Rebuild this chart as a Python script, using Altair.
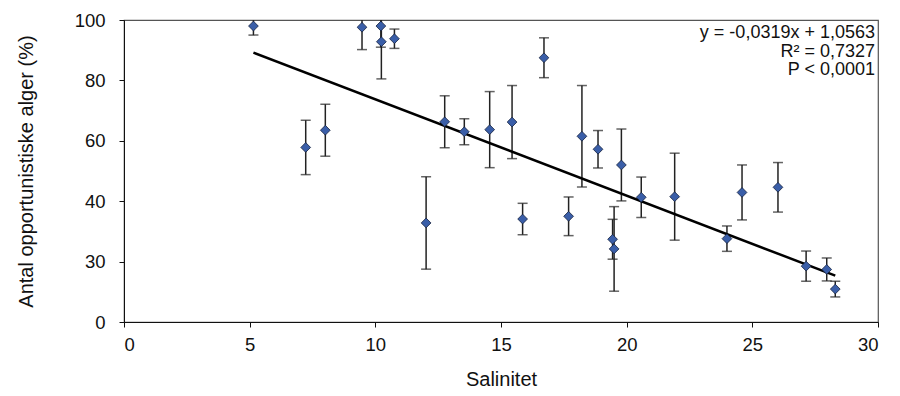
import altair as alt
import pandas as pd

# --- data ---
salinitet = [5.15, 7.23, 8.01, 9.47, 10.22, 10.24, 10.76, 12.02, 12.76, 13.54,
             14.55, 15.44, 15.86, 16.71, 17.69, 18.22, 18.86, 19.44, 19.50, 19.79,
             20.58, 21.91, 23.99, 24.59, 26.02, 27.14, 27.96, 28.30]
andel = [98.0, 57.8, 63.5, 97.6, 98.0, 92.8, 93.8, 32.8, 66.3, 63.0,
         63.7, 66.2, 34.1, 87.5, 35.0, 61.5, 57.2, 27.4, 24.2, 52.0,
         41.3, 41.5, 27.6, 42.9, 44.6, 18.5, 17.4, 10.9]
fejl = [3.0, 9.0, 8.6, 7.4, 7.0, 12.3, 3.2, 15.3, 8.6, 4.3,
        12.6, 12.1, 5.2, 6.6, 6.4, 16.8, 6.2, 6.6, 14.0, 11.9,
        6.7, 14.4, 4.2, 9.1, 8.2, 5.0, 3.8, 2.6]

slope = -0.0319
intercept = 1.0563
eq_lines = ["y = -0,0319x + 1,0563", "R² = 0,7327", "P < 0,0001"]

y_tick_values = [0, 20, 40, 60, 80, 100]
x_tick_values = [0, 5, 10, 15, 20, 25, 30]

df = pd.DataFrame({"x": salinitet, "y": andel, "e": fejl})
df["lo"] = df["y"] - df["e"]
df["hi"] = df["y"] + df["e"]

xmin, xmax = min(salinitet), max(salinitet)
trend = pd.DataFrame({
    "x": [xmin, xmax],
    "y": [(intercept + slope * xmin) * 100, (intercept + slope * xmax) * 100],
})

FONT = "Liberation Sans"
LFS = 18.5
TFS = 20

xscale = alt.Scale(domain=[0, 30], nice=False)
yscale = alt.Scale(domain=[0, 100], nice=False)

xaxis = alt.Axis(values=x_tick_values, title="Salinitet", grid=False,
                 tickSize=5, labelPadding=8, titlePadding=16,
                 labelFontSize=LFS, titleFontSize=TFS, titleFontWeight="normal",
                 labelColor="#111", titleColor="#111",
                 domainColor="#111", tickColor="#111", labelFont=FONT, titleFont=FONT)
yaxis = alt.Axis(values=y_tick_values, title="Antal opportunistiske alger (%)",
                 grid=False, tickSize=5, labelPadding=14, titlePadding=38,
                 labelExpr="datum.value == 20 ? '30' : datum.label",
                 labelFontSize=LFS, titleFontSize=TFS, titleFontWeight="normal",
                 labelColor="#111", titleColor="#111",
                 domainColor="#111", tickColor="#111", labelFont=FONT, titleFont=FONT)

base = alt.Chart(df)

bars = base.mark_rule(color="#222", strokeWidth=1.5, clip=True).encode(
    x=alt.X("x:Q", scale=xscale, axis=xaxis),
    y=alt.Y("lo:Q", scale=yscale, axis=yaxis),
    y2="hi:Q",
)
cap_lo = base.mark_tick(color="#222", orient="horizontal", size=10, thickness=1.5,
                        clip=True).encode(
    x=alt.X("x:Q", scale=xscale), y=alt.Y("lo:Q", scale=yscale))
cap_hi = base.mark_tick(color="#222", orient="horizontal", size=10, thickness=1.5,
                        clip=True).encode(
    x=alt.X("x:Q", scale=xscale), y=alt.Y("hi:Q", scale=yscale))

line = alt.Chart(trend).mark_line(color="#000", strokeWidth=2.5).encode(
    x=alt.X("x:Q", scale=xscale), y=alt.Y("y:Q", scale=yscale))

points = base.mark_point(shape="diamond", filled=True, size=95, fill="#3a5ea8",
                         stroke="#14213d", strokeWidth=0.8, opacity=1).encode(
    x=alt.X("x:Q", scale=xscale), y=alt.Y("y:Q", scale=yscale))

eq_layers = []
for i, txt in enumerate(eq_lines):
    eq_layers.append(
        alt.Chart(pd.DataFrame({"a": [0]})).mark_text(
            align="right", baseline="middle", fontSize=18,
            font=FONT, color="#111").encode(
            x=alt.value(751), y=alt.value(13 + i * 18.5), text=alt.value(txt))
    )

chart = alt.layer(bars, cap_lo, cap_hi, line, points, *eq_layers).properties(
    width=754, height=302,
    autosize=alt.AutoSizeParams(type="none"),
    padding={"left": 124, "top": 20, "right": 22, "bottom": 74},
    background="white",
).configure_view(stroke="#555", strokeWidth=1.2)

chart.save("out.html", embed_options={"renderer": "svg", "actions": False})
